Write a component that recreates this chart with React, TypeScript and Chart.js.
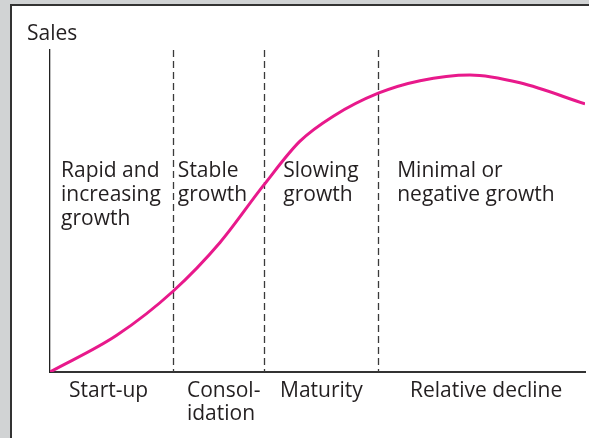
import React, { useEffect, useRef } from "react";
import { Chart, registerables } from "chart.js";

Chart.register(...registerables);

// Sales curve over the life cycle (x: time 0..100, y: sales 0..100)
const curveX = [0, 12.47, 23.05, 31.78, 39.87, 46.73, 52.95, 61.36, 69.16, 78.5, 87.85, 100];
const curveY = [0, 11.4, 25.16, 40.22, 57.86, 71.68, 79.44, 86.58, 90.47, 92.24, 89.81, 83.26];

// Stage boundaries (dashed lines) and stage names on the x axis
const stageBoundaries = [23.05, 40.0, 61.4];
const stageNames = ["Start-up", "Consol-\nidation", "Maturity", "Relative decline"];
const stageNameAt = [3.55, 25.6, 43.0, 67.3];

// Growth descriptions inside the plot
const growthTexts = ["Rapid and\nincreasing\ngrowth", "Stable\ngrowth", "Slowing\ngrowth", "Minimal or\nnegative growth"];
const growthTextAt = [2.06, 23.9, 43.6, 64.9];
const growthTextTop = 60.6;

const yTitle = "Sales";

const FONT = "'Open Sans', 'Noto Sans', sans-serif";
const TEXT = "#231f20";
const SIZE = 21;

const framePlugin = {
  id: "frame",
  beforeDraw(chart: any) {
    const { ctx, width, height } = chart;
    ctx.save();
    ctx.fillStyle = "#d1d3d4";
    ctx.fillRect(0, 0, width, height);
    ctx.fillStyle = "#ffffff";
    ctx.fillRect(11, 5, width - 11, height - 5);
    ctx.strokeStyle = "#333333";
    ctx.lineWidth = 2;
    ctx.beginPath();
    ctx.moveTo(11, height);
    ctx.lineTo(11, 5);
    ctx.lineTo(width, 5);
    ctx.stroke();
    ctx.restore();
  },
};

const dividersPlugin = {
  id: "dividers",
  beforeDatasetsDraw(chart: any) {
    const { ctx, chartArea, scales } = chart;
    const xs = scales.x;
    ctx.save();
    ctx.strokeStyle = "#3a3a3a";
    ctx.lineWidth = 1.3;
    ctx.setLineDash([7, 4]);
    stageBoundaries.forEach((b) => {
      const px = Math.round(xs.getPixelForValue(b)) + 0.5;
      ctx.beginPath();
      ctx.moveTo(px, chartArea.top);
      ctx.lineTo(px, chartArea.bottom);
      ctx.stroke();
    });
    ctx.setLineDash([]);
    // in-plot growth descriptions
    ctx.fillStyle = TEXT;
    ctx.font = `${SIZE}px ${FONT}`;
    ctx.textBaseline = "alphabetic";
    ctx.textAlign = "left";
    const ys = scales.y;
    growthTexts.forEach((t, i) => {
      const px = xs.getPixelForValue(growthTextAt[i]);
      const py = ys.getPixelForValue(growthTextTop);
      t.split("\n").forEach((line, j) => {
        ctx.fillText(line, px, py + j * 24);
      });
    });
    // y axis title
    ctx.fillText(yTitle, chartArea.left - 23, chartArea.top - 10);
    ctx.restore();
  },
};

export default function App() {
  const ref = useRef<HTMLCanvasElement | null>(null);
  useEffect(() => {
    if (!ref.current) return;
    const chart = new Chart(ref.current, {
      type: "line",
      data: {
        datasets: [
          {
            data: curveX.map((x, i) => ({ x, y: curveY[i] })),
            borderColor: "#e8198b",
            borderWidth: 3,
            pointRadius: 0,
            cubicInterpolationMode: "monotone",
            fill: false,
          },
        ],
      },
      options: {
        responsive: false,
        animation: false,
        events: [],
        layout: { padding: { left: 50, top: 50, right: 4, bottom: 0 } },
        plugins: { legend: { display: false }, tooltip: { enabled: false }, title: { display: false } },
        scales: {
          x: {
            type: "linear",
            min: 0,
            max: 100,
            grid: { display: false, drawTicks: false },
            border: { display: true, color: "#333333", width: 2 },
            afterBuildTicks: (scale: any) => {
              scale.ticks = stageNameAt.map((v) => ({ value: v }));
            },
            afterFit: (scale: any) => {
              scale.height = 66;
            },
            ticks: {
              autoSkip: false,
              maxRotation: 0,
              align: "start",
              padding: 7,
              color: TEXT,
              font: { family: FONT, size: SIZE, lineHeight: 1.1 },
              callback: (value: any) => {
                const idx = stageNameAt.indexOf(value);
                return idx >= 0 ? stageNames[idx].split("\n") : "";
              },
            },
          },
          y: {
            type: "linear",
            min: 0,
            max: 100,
            grid: { display: false, drawTicks: false },
            border: { display: true, color: "#222222", width: 1.3 },
            ticks: { display: false },
            afterFit: (scale: any) => {
              scale.width = 0;
            },
          },
        },
      },
      plugins: [framePlugin, dividersPlugin],
    } as any);
    return () => chart.destroy();
  }, []);
  return (
    <div style={{ position: "absolute", left: 0, top: 0, width: 589, height: 438 }}>
      <canvas ref={ref} width={589} height={438} />
    </div>
  );
}
